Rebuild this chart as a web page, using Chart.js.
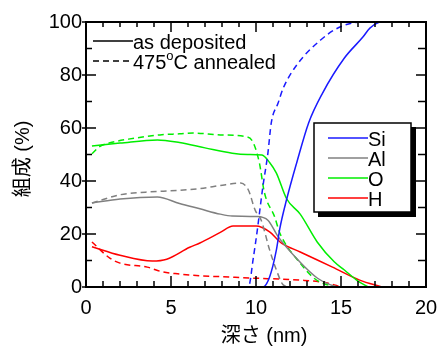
<!DOCTYPE html>
<html>
<head>
<meta charset="utf-8">
<script src="https://cdn.jsdelivr.net/npm/chart.js@4"></script>
<style>
  body { margin: 0; background: #fff; }
  #c { display: block; }
</style>
</head>
<body>
<canvas id="c" width="438" height="347"></canvas>
<script>
// depth (nm) and composition (%)
var siDepX = [0.35, 10.4, 10.8, 11.2, 11.4, 11.8, 12.4, 13.1, 13.9, 15.2, 16.3, 16.7, 17.4, 20];
var siDepY = [0, 0, 3.8, 14, 22, 33, 47, 62, 73, 86.4, 94.4, 97.7, 100, 100];
var siAnnX = [0.35, 9.55, 9.85, 10.1, 10.3, 10.4, 10.7, 10.9, 11.3, 11.6, 12.4, 13.8, 14.9, 16.2, 20];
var siAnnY = [0, 0, 11.3, 22.6, 32.8, 37.7, 50.5, 62, 69.4, 75, 83.8, 93.2, 98, 100, 100];

var alDepX = [0.35, 2, 4.2, 5.5, 6.7, 7.9, 8.6, 10, 10.7, 11.3, 12.5, 13.6, 14.4, 14.8];
var alDepY = [31.7, 33.2, 34, 31.5, 29.5, 27.5, 26.8, 26.6, 25.2, 19, 10, 3.4, 0.8, 0];
var alAnnX = [0.35, 2, 3.5, 5.5, 6.9, 7.9, 9.1, 9.55, 9.95, 10.3, 10.8, 11.2, 11.6, 12];
var alAnnY = [31.7, 34.8, 35.8, 36.5, 37.3, 38.3, 39.2, 36.6, 29, 25.3, 14, 6.4, 0.8, 0];

var oDepX = [0.35, 2, 4.2, 5.5, 7, 8.6, 9.5, 10.35, 10.8, 11.2, 11.8, 12.6, 13.6, 14.6, 15.2, 16, 16.6];
var oDepY = [53.2, 54.3, 55.5, 54.5, 52.5, 50.5, 50, 49.8, 47, 43, 33.3, 27.5, 17, 9.5, 6.4, 2.2, 0];
var oAnnX = [0.35, 0.8, 1.6, 2.5, 4.35, 5.5, 6.3, 7.9, 9.5, 9.85, 10.2, 10.5, 11.1, 11.4, 12.6, 13.4, 14, 14.6];
var oAnnY = [50.3, 53, 54.7, 55.8, 57.4, 57.8, 58.1, 57.4, 56.6, 54.3, 46.8, 35.5, 26.4, 20.4, 9, 3.4, 1.2, 0.3];

var hDepX = [0.35, 2, 3.9, 4.75, 6.1, 6.7, 7.9, 8.65, 10, 10.8, 11.3, 11.5, 12.6, 14.5, 16.1, 17.4];
var hDepY = [15.2, 12, 9.8, 10.5, 15, 16.6, 20.6, 23, 23, 20.8, 17.7, 16.6, 13.2, 7.5, 2.6, 0];
var hAnnX = [0.35, 1.4, 2, 3.6, 4.5, 5.5, 6.7, 7.9, 9.6, 12.6, 14.2, 15];
var hAnnY = [17, 10.9, 9, 7.5, 5.7, 4.9, 4.2, 3.9, 3.4, 2.6, 1.5, 0];

var elements = ['Si', 'Al', 'O', 'H'];
var colors = ['#1a1aff', '#808080', '#00ee00', '#ff0000'];
var xTicks = [0, 5, 10, 15, 20];
var yTicks = [0, 20, 40, 60, 80, 100];

var FONT = '"Liberation Sans", Arial, "Noto Sans CJK JP", sans-serif';

function pts(xs, ys) {
    return xs.map(function (x, i) { return { x: x, y: ys[i] }; });
}

function series(xs, ys, color, dashed) {
    return {
        data: pts(xs, ys),
        borderColor: color,
        borderWidth: 1.5,
        borderDash: dashed ? [6, 4] : [],
        pointRadius: 0,
        fill: false,
        cubicInterpolationMode: 'monotone'
    };
}

// frame, inside ticks, legends and axis titles
var decor = {
    id: 'decor',
    afterDraw: function (chart) {
        var ctx = chart.ctx;
        var a = chart.chartArea;
        var xs = chart.scales.x, ys = chart.scales.y;
        ctx.save();
        ctx.strokeStyle = '#000';
        ctx.lineWidth = 1.5;
        var i, p;
        for (i = 0; i <= 20; i++) {
            p = xs.getPixelForValue(i);
            var lx = (i % 5 == 0) ? 11 : 6;
            ctx.beginPath();
            ctx.moveTo(p, a.bottom); ctx.lineTo(p, a.bottom - lx);
            ctx.moveTo(p, a.top); ctx.lineTo(p, a.top + (i % 5 == 0 ? 10 : 5));
            ctx.stroke();
        }
        for (i = 0; i <= 100; i += 10) {
            p = ys.getPixelForValue(i);
            var major = (i % 20 == 0);
            ctx.beginPath();
            ctx.moveTo(a.left - (major ? 4 : 0), p); ctx.lineTo(a.left + (major ? 10 : 6), p);
            ctx.moveTo(a.right, p); ctx.lineTo(a.right - (major ? 10 : 8), p);
            ctx.stroke();
        }
        ctx.lineWidth = 2;
        ctx.strokeRect(a.left, a.top, a.right - a.left, a.bottom - a.top);

        // style legend (top left)
        ctx.fillStyle = '#000';
        ctx.lineWidth = 1.5;
        ctx.font = '20px ' + FONT;
        ctx.textBaseline = 'alphabetic';
        ctx.beginPath(); ctx.moveTo(93, 41); ctx.lineTo(133, 41); ctx.stroke();
        ctx.fillText('as deposited', 133, 49);
        ctx.setLineDash([6, 4]);
        ctx.beginPath(); ctx.moveTo(93, 61); ctx.lineTo(133, 61); ctx.stroke();
        ctx.setLineDash([]);
        var tx = 133;
        ctx.fillText('475', tx, 69); tx += ctx.measureText('475').width;
        ctx.font = '13px ' + FONT;
        ctx.fillText('o', tx, 60); tx += ctx.measureText('o').width;
        ctx.font = '20px ' + FONT;
        ctx.fillText('C annealed', tx, 69);

        // element legend box with shadow
        ctx.fillStyle = '#000';
        ctx.fillRect(318, 127, 98, 90);
        ctx.fillStyle = '#fff';
        ctx.fillRect(314, 123, 97, 89);
        ctx.lineWidth = 1.5;
        ctx.strokeRect(314, 123, 97, 89);
        for (i = 0; i < elements.length; i++) {
            var ly = 138 + i * 20;
            ctx.strokeStyle = colors[i];
            ctx.beginPath(); ctx.moveTo(328, ly); ctx.lineTo(368, ly); ctx.stroke();
            ctx.fillStyle = '#000';
            ctx.fillText(elements[i], 368, ly + 8);
        }

        // axis titles
        ctx.fillStyle = '#000';
        ctx.font = '20px ' + FONT;
        ctx.textAlign = 'center';
        ctx.textBaseline = 'middle';
        ctx.fillText('深さ (nm)', 264, 336);
        ctx.translate(23, 159);
        ctx.rotate(-Math.PI / 2);
        ctx.fillText('組成 (%)', 0, 0);
        ctx.restore();
    }
};

var ctx = document.getElementById('c').getContext('2d');
var chart = new Chart(ctx, {
    type: 'line',
    data: {
        datasets: [
            series(siDepX, siDepY, colors[0], false),
            series(siAnnX, siAnnY, colors[0], true),
            series(alDepX, alDepY, colors[1], false),
            series(alAnnX, alAnnY, colors[1], true),
            series(oDepX, oDepY, colors[2], false),
            series(oAnnX, oAnnY, colors[2], true),
            series(hDepX, hDepY, colors[3], false),
            series(hAnnX, hAnnY, colors[3], true)
        ]
    },
    options: {
        responsive: false,
        animation: false,
        layout: { padding: { top: 22, right: 0, left: 0, bottom: 0 } },
        plugins: { legend: { display: false }, tooltip: { enabled: false } },
        scales: {
            x: {
                type: 'linear', min: 0, max: 20,
                afterBuildTicks: function (s) { s.ticks = xTicks.map(function (v) { return { value: v }; }); },
                afterFit: function (s) { s.height = 60; s.paddingRight = 12; },
                grid: { display: false, drawTicks: false },
                border: { display: false },
                ticks: { color: '#000', padding: 9, maxRotation: 0, font: { size: 20, family: FONT } }
            },
            y: {
                min: 0, max: 100,
                afterBuildTicks: function (s) { s.ticks = yTicks.map(function (v) { return { value: v }; }); },
                afterFit: function (s) { s.width = 86; },
                grid: { display: false, drawTicks: false },
                border: { display: false },
                ticks: { color: '#000', padding: 4, font: { size: 20, family: FONT } }
            }
        }
    },
    plugins: [decor]
});
</script>
</body>
</html>
